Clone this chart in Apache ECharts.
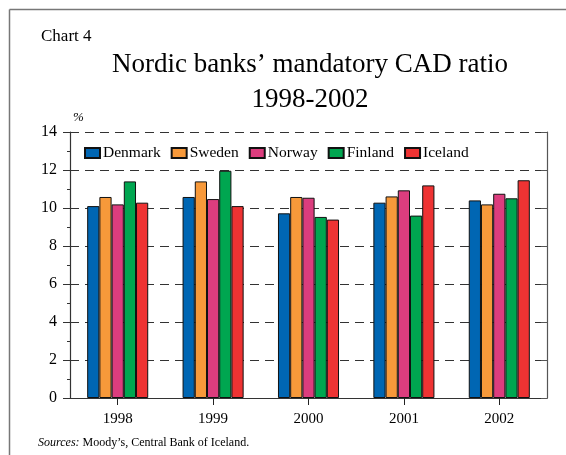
<!DOCTYPE html>
<html><head><meta charset="utf-8">
<script src="https://cdn.jsdelivr.net/npm/echarts@6/dist/echarts.min.js"></script>
<style>html,body{margin:0;padding:0;background:#fff}#c{width:566px;height:455px}</style>
</head><body><div id="c"></div>
<script>
const categories = ['1998','1999','2000','2001','2002'];
const denmark = [10.1, 10.58, 9.72, 10.28, 10.4];
const sweden  = [10.58, 11.4, 10.58, 10.61, 10.19];
const norway  = [10.19, 10.47, 10.54, 10.93, 10.75];
const finland = [11.4, 11.96, 9.53, 9.6, 10.51];
const iceland = [10.28, 10.1, 9.39, 11.19, 11.46];
const seriesNames = ['Denmark','Sweden','Norway','Finland','Iceland'];
const seriesValues = [denmark, sweden, norway, finland, iceland];
const seriesColors = ['#0066B3','#F7993A','#DC3D7E','#00A650','#EE3333'];
const yTicks = [0,2,4,6,8,10,12,14];

const FONT = '"Liberation Serif","Times New Roman",serif';
const chart = echarts.init(document.getElementById('c'), null, {renderer:'canvas'});
chart.setOption({
  animation:false,
  backgroundColor:'#fff',
  title:{
    text:'Nordic banks\u2019 mandatory CAD ratio\n1998-2002',
    left:305, top:42, textAlign:'center',
    textStyle:{fontFamily:FONT, fontSize:27, fontWeight:'normal', color:'#000', lineHeight:35}
  },
  legend:{
    left:84, top:145, padding:0, itemWidth:15, itemHeight:10, itemGap:10,
    icon:'rect',
    data:seriesNames,
    textStyle:{fontFamily:FONT, fontSize:15.5, color:'#000', padding:[0,0,0,-2]}
  },
  grid:{left:70, right:19, top:132, bottom:57},
  xAxis:{type:'category', data:categories,
     axisLine:{show:true, lineStyle:{color:'#333', width:1.2}},
     axisTick:{show:true, alignWithLabel:true, length:7, lineStyle:{color:'#222'}},
     axisLabel:{fontFamily:FONT, fontSize:15, color:'#000', margin:14},
     splitLine:{show:false}},
  yAxis:[
    {type:'value', min:0, max:14, interval:2, position:'left',
     axisLine:{show:true, lineStyle:{color:'#333', width:1.2}},
     axisTick:{show:true, inside:false, length:7, lineStyle:{color:'#333'}},
     minorTick:{show:true, splitNumber:2, length:3, lineStyle:{color:'#333'}},
     axisLabel:{fontFamily:FONT, fontSize:16, color:'#000', margin:13},
     splitLine:{show:true, lineStyle:{color:'#333', type:[9,6], width:1.1}}},
    {type:'value', min:0, max:14, interval:2, position:'left',
     axisLine:{show:false},
     axisTick:{show:true, inside:true, length:7, lineStyle:{color:'#333'}},
     axisLabel:{show:false}, splitLine:{show:false}},
    {type:'value', min:0, max:14, interval:2, position:'right',
     axisLine:{show:true, lineStyle:{color:'#555', width:1.2}},
     axisTick:{show:true, inside:true, length:6, lineStyle:{color:'#555'}},
     axisLabel:{show:false}, splitLine:{show:false}}
  ],
  series: seriesNames.map((n,i)=>({
    name:n, type:'bar', yAxisIndex:0,
    data:seriesValues[i],
    barGap:'0%', barCategoryGap:'36%',
    itemStyle:{color:seriesColors[i], borderColor:'#111', borderWidth:1},
    z:3
  })),
  graphic:[
    {type:'line', shape:{x1:9.5,y1:9.5,x2:566,y2:9.5}, style:{stroke:'#777', lineWidth:1.5}},
    {type:'line', shape:{x1:9.5,y1:9.5,x2:9.5,y2:455}, style:{stroke:'#777', lineWidth:1.5}},
    {type:'text', left:41, top:28, style:{text:'Chart 4', font:'17px '+FONT, fill:'#000'}},
    {type:'text', left:73, top:111, style:{text:'%', font:'italic 13px '+FONT, fill:'#000'}},
    {type:'text', left:38, top:437, style:{
      text:'{i|Sources:} Moody\u2019s, Central Bank of Iceland.',
      font:'12px '+FONT, fill:'#000',
      rich:{i:{fontStyle:'italic', fontFamily:FONT, fontSize:12}}
    }}
  ]
});
</script></body></html>
